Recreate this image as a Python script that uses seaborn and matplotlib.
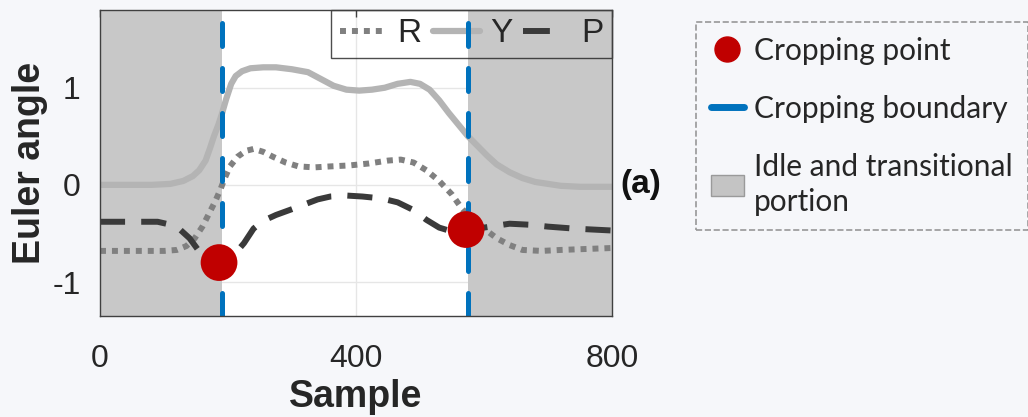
import numpy as np
import pandas as pd
import matplotlib
matplotlib.use("Agg")
import matplotlib.pyplot as plt
import seaborn as sns
from matplotlib.lines import Line2D
from matplotlib.patches import Patch

# ---------------- data ----------------
y_sample = [0, 40, 80, 110, 130, 145, 155, 165, 172, 178, 185, 190, 197, 205, 212,
            222, 235, 255, 275, 300, 325, 345, 365, 385, 405, 425, 445, 465, 485,
            500, 515, 530, 545, 560, 575, 590, 605, 620, 640, 660, 680, 700, 720,
            750, 800]
y_value = [0, 0, 0, 0.01, 0.04, 0.09, 0.15, 0.25, 0.38, 0.5, 0.62, 0.72, 0.88, 1.04,
           1.12, 1.17, 1.2, 1.21, 1.21, 1.19, 1.16, 1.09, 1.02, 0.98, 0.97, 0.98,
           1.0, 1.04, 1.06, 1.04, 0.98, 0.87, 0.74, 0.62, 0.5, 0.4, 0.3, 0.21, 0.13,
           0.07, 0.03, 0.01, -0.01, -0.02, -0.02]

r_sample = [0, 50, 100, 120, 135, 148, 160, 170, 180, 188, 195, 203, 215, 228, 240,
            255, 270, 290, 310, 335, 360, 390, 420, 450, 470, 490, 510, 530, 550,
            565, 580, 600, 620, 640, 660, 690, 720, 760, 800]
r_value = [-0.68, -0.68, -0.68, -0.67, -0.63, -0.55, -0.43, -0.3, -0.17, -0.05, 0.07,
           0.19, 0.29, 0.35, 0.37, 0.34, 0.29, 0.23, 0.19, 0.18, 0.19, 0.2, 0.22,
           0.25, 0.26, 0.23, 0.15, 0.04, -0.1, -0.24, -0.35, -0.45, -0.55, -0.62,
           -0.67, -0.68, -0.67, -0.66, -0.65]

p_sample = [0, 50, 90, 110, 125, 140, 150, 160, 170, 180, 190, 200, 212, 225, 240,
            255, 275, 300, 320, 340, 360, 385, 410, 440, 465, 490, 510, 530, 550,
            570, 590, 610, 640, 670, 700, 740, 800]
p_value = [-0.38, -0.38, -0.38, -0.41, -0.46, -0.55, -0.64, -0.73, -0.8, -0.83, -0.82,
           -0.77, -0.7, -0.6, -0.45, -0.37, -0.31, -0.25, -0.2, -0.15, -0.12, -0.11,
           -0.12, -0.14, -0.18, -0.26, -0.36, -0.44, -0.48, -0.47, -0.45, -0.43,
           -0.40, -0.41, -0.43, -0.45, -0.47]

crop_x = [186, 572]
crop_y = [-0.80, -0.46]
boundary_x = [190, 575]
idle_spans = [(0, 190), (575, 800)]

series_labels = ["R", "Y", "P"]
x_ticks = [0, 400, 800]
y_ticks = [-1, 0, 1]
legend_labels = ["Cropping point", "Cropping boundary", "Idle and transitional\nportion"]

# ---------------- style ----------------
BG = "#f6f7fa"
GRAY_SPAN = "#c8c8c8"
C_R = "#808080"
C_Y = "#b4b4b4"
C_P = "#3a3a3a"
C_BLUE = "#0072bd"
C_RED = "#c00000"

sns.set_theme(style="white")
plt.rcParams["font.family"] = ["Liberation Sans", "DejaVu Sans"]

fig = plt.figure(figsize=(10.28, 4.17), dpi=100, facecolor=BG)
ax = fig.add_axes([100 / 1028, 1 - 316 / 417, 512 / 1028, 306 / 417])
ax.set_facecolor("white")

for a, b in idle_spans:
    ax.axvspan(a, b, color=GRAY_SPAN, lw=0, zorder=1)

df_r = pd.DataFrame({"Sample": r_sample, "value": r_value})
df_y = pd.DataFrame({"Sample": y_sample, "value": y_value})
df_p = pd.DataFrame({"Sample": p_sample, "value": p_value})

R_LS = (0, (1, 1))
P_LS = (0, (4.2, 2.7))
P_LEG_LS = (0, (4.5, 4.0))
sns.lineplot(data=df_y, x="Sample", y="value", ax=ax, color=C_Y, lw=4.5,
             errorbar=None, zorder=2)
sns.lineplot(data=df_r, x="Sample", y="value", ax=ax, color=C_R, lw=4.3,
             linestyle=R_LS, errorbar=None, zorder=2.2)
sns.lineplot(data=df_p, x="Sample", y="value", ax=ax, color=C_P, lw=4.3,
             linestyle=P_LS, errorbar=None, zorder=2.4)

for xb in boundary_x:
    ax.axvline(xb, color=C_BLUE, lw=3.6, ls=(0, (4.6, 4.4)),
               dash_capstyle="round", zorder=4)

sns.scatterplot(x=crop_x, y=crop_y, ax=ax, s=700, color=C_RED, edgecolor="none",
                zorder=5, legend=False)

ax.set_xlim(0, 800)
ax.set_ylim(-1.35, 1.8)
ax.set_xticks(x_ticks)
ax.set_yticks(y_ticks)
ax.set_xticklabels([str(t) for t in x_ticks])
ax.set_yticklabels([str(t) for t in y_ticks])
ax.grid(True, color="#e6e6e6", lw=1)
ax.set_axisbelow(True)
for s in ax.spines.values():
    s.set_color("#404040")
    s.set_linewidth(1.0)
    s.set_zorder(6)
ax.tick_params(axis="both", direction="in", length=5, width=1, color="#404040",
               top=True, right=True, labelsize=23, labelcolor="#262626")
ax.tick_params(axis="x", pad=20)
ax.tick_params(axis="y", pad=14)
ax.set_xlabel("Sample", fontsize=27, fontweight="bold", color="#262626", labelpad=4)
ax.set_ylabel("Euler angle", fontsize=27, fontweight="bold", color="#262626",
              labelpad=3)

# inner legend
h_inner = [Line2D([], [], color=C_R, lw=4.3, ls=R_LS),
           Line2D([], [], color=C_Y, lw=4.5),
           Line2D([], [], color=C_P, lw=4.3, ls=P_LEG_LS)]
leg = ax.legend(h_inner, series_labels, ncol=3, loc="upper right",
                bbox_to_anchor=(1.0, 1.0), borderaxespad=0, frameon=True,
                fancybox=False, fontsize=24, handlelength=1.42, handletextpad=0.32,
                columnspacing=0.32, borderpad=0.25)
leg.get_frame().set_facecolor("none")
leg.get_frame().set_edgecolor("#202020")
leg.get_frame().set_linewidth(1.0)
leg.set_zorder(3.5)

fig.text(641 / 1028, 1 - 185 / 417, "(a)", fontsize=24, fontweight="bold",
         ha="center", va="center", color="#111111")

# outer legend
h_outer = [Line2D([], [], ls="none", marker="o", markersize=18, color=C_RED),
           Line2D([], [], color=C_BLUE, lw=5, solid_capstyle="round"),
           Patch(facecolor="#c4c4c4", edgecolor="#9a9a9a", lw=1)]
leg2 = fig.legend(h_outer, legend_labels, loc="upper left",
                  bbox_to_anchor=(696 / 1028, 1 - 22 / 417), frameon=True,
                  fancybox=False, prop={"family": "Lato", "size": 21.5},
                  handlelength=1.1, handletextpad=0.35, labelspacing=1.0,
                  borderpad=0.5, borderaxespad=0)
for t in leg2.get_texts():
    t.set_linespacing(1.3)
fr = leg2.get_frame()
fr.set_facecolor("none")
fr.set_edgecolor("#808080")
fr.set_linestyle("--")
fr.set_linewidth(1.2)

fig.savefig("out.png", dpi=100, facecolor=BG)
